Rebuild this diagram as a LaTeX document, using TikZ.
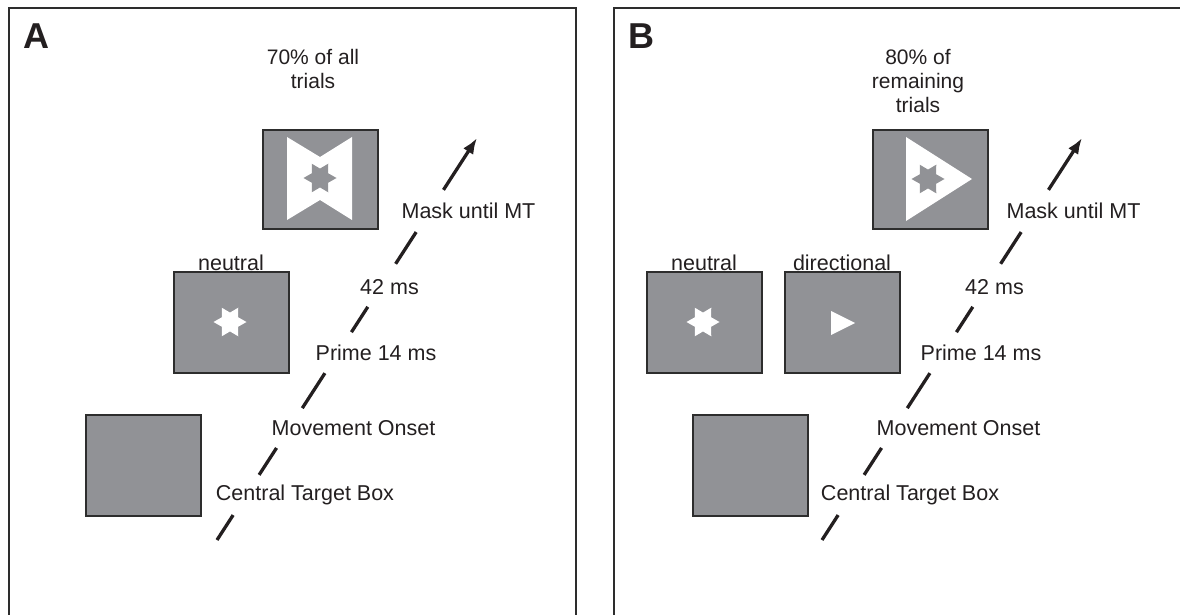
\documentclass[tikz,border=0pt]{standalone}
\usepackage{fontspec}
\setmainfont{Liberation Sans}
\usetikzlibrary{arrows.meta,calc,shapes.geometric}
\definecolor{boxgray}{RGB}{145,146,150}
\definecolor{edgecol}{RGB}{45,45,45}
\definecolor{ink}{RGB}{35,31,32}
\begin{document}
\begin{tikzpicture}[x=1pt,y=-1pt,
  panel/.style={draw=edgecol, line width=2pt},
  stim/.style={draw=edgecol, line width=2pt, fill=boxgray, minimum width=115pt, minimum height=101pt, inner sep=0pt},
  lab/.style={text=ink, font=\fontsize{21.5}{26}\selectfont, inner sep=0pt},
  toplab/.style={text=ink, font=\fontsize{21}{24}\selectfont, align=center, inner sep=0pt},
  letter/.style={text=ink, font=\fontsize{36}{40}\selectfont\bfseries, inner sep=0pt},
  timeline/.style={draw=ink, line width=3.3pt},
  tip/.style={-{Latex[length=16pt,width=12pt]}},
  star6/.style={star, star points=6, star point ratio=1.75, minimum size=33pt, inner sep=0pt, rotate=90},
  maskfill/.style={fill=white}
]
\useasboundingbox (0,0) rectangle (1180,615);

% ---------------- Panel A ----------------
\draw[panel] (9,616) -- (9,8) -- (576,8) -- (576,616);
\node[letter] (labA) at (36,36.5) {A};
\node[toplab] (topA) at (313,69) {70\% of all\\trials};

\node[stim, minimum height=99pt] (maskA) at (320.5,179.5) {};
\fill[white] (287,137) -- (320,157) -- (352,137) -- (352,220) -- (320,200) -- (287,220) -- cycle;
\node[star6, fill=boxgray] (mstarA) at (320,178) {};

\node[stim] (neuA) at (231.5,322.5) {};
\node[star6, fill=white, minimum size=33pt] (nstarA) at (230,322) {};
\node[lab] (neuLabA) at (231,263) {neutral};

\node[stim] (tgtA) at (143.5,465.5) {};

\coordinate (sA) at (217,540);
\coordinate (eA) at (477,138);
\foreach \a/\b in {0/0.062, 0.162/0.229, 0.328/0.415, 0.517/0.580, 0.687/0.766}
  \draw[timeline] ($(sA)!\a!(eA)$) -- ($(sA)!\b!(eA)$);
\draw[timeline, tip] ($(sA)!0.871!(eA)$) -- (eA);

\node[lab] (mtA) at (468.5,211) {Mask until MT};
\node[lab] (msA) at (389.5,287) {42 ms};
\node[lab] (prA) at (376,353) {Prime 14 ms};
\node[lab] (moA) at (353.5,428) {Movement Onset};
\node[lab] (ctA) at (305,495) {Central Target Box};

% ---------------- Panel B ----------------
\draw[panel] (614,616) -- (614,8) -- (1182,8);
\node[letter] (labB) at (641,36.5) {B};
\node[toplab] (topB) at (918,81) {80\% of\\remaining\\trials};

\node[stim, minimum height=99pt] (maskB) at (930,179.5) {};
\fill[white] (906,137) -- (972,179) -- (906,221) -- cycle;
\node[star6, fill=boxgray] (mstarB) at (928,179) {};

\node[stim] (neuB) at (704.5,322.5) {};
\node[star6, fill=white, minimum size=33pt] (nstarB) at (703,322) {};
\node[lab] (neuLabB) at (704,263) {neutral};

\node[stim] (dirB) at (842.5,322.5) {};
\fill[white] (831,311) -- (855,323) -- (831,335) -- cycle;
\node[lab] (dirLabB) at (842,263) {directional};

\node[stim] (tgtB) at (750,465.5) {};

\coordinate (sB) at (822,540);
\coordinate (eB) at (1082,138);
\foreach \a/\b in {0/0.062, 0.162/0.229, 0.328/0.415, 0.517/0.580, 0.687/0.766}
  \draw[timeline] ($(sB)!\a!(eB)$) -- ($(sB)!\b!(eB)$);
\draw[timeline, tip] ($(sB)!0.871!(eB)$) -- (eB);

\node[lab] (mtB) at (1073.5,211) {Mask until MT};
\node[lab] (msB) at (994.5,287) {42 ms};
\node[lab] (prB) at (981,353) {Prime 14 ms};
\node[lab] (moB) at (958.5,428) {Movement Onset};
\node[lab] (ctB) at (910,495) {Central Target Box};
\end{tikzpicture}
\end{document}
